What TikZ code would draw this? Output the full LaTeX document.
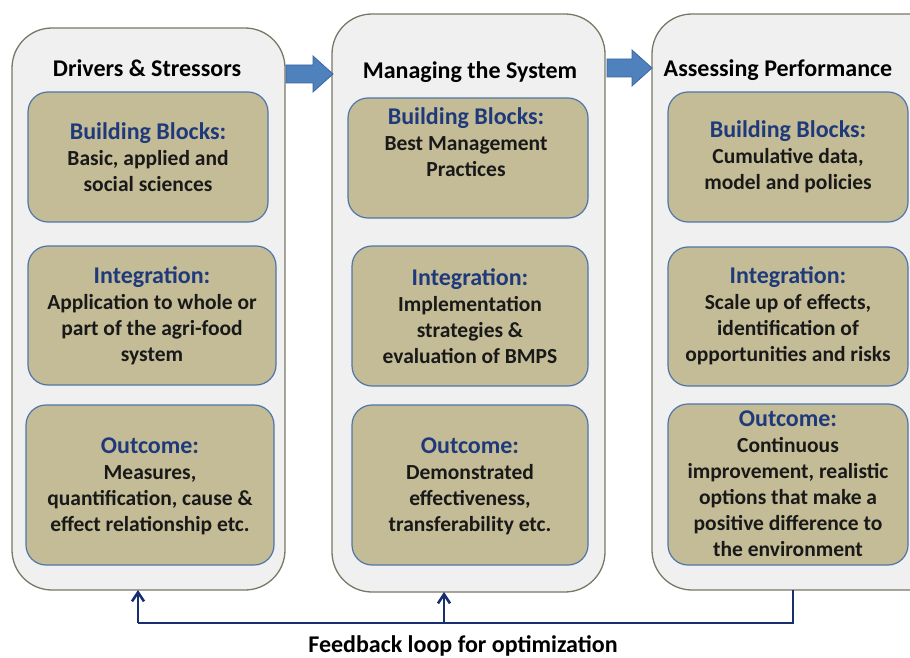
\documentclass[tikz,border=0pt]{standalone}
\usepackage{fontspec}
\setmainfont{Carlito}
\usetikzlibrary{arrows.meta}
\definecolor{panelfill}{HTML}{F0F0F0}
\definecolor{paneldraw}{HTML}{7A7766}
\definecolor{boxfill}{HTML}{C4BC96}
\definecolor{boxdraw}{HTML}{4F76A8}
\definecolor{headblue}{HTML}{1F3A7A}
\definecolor{arrfill}{HTML}{4F81BD}
\definecolor{arrdraw}{HTML}{3A66A0}
\definecolor{fbline}{HTML}{172F6E}
\tikzset{
  panel/.style={draw=paneldraw, line width=1.3pt, fill=panelfill, rounded corners=40pt},
  inbox/.style={draw=boxdraw, line width=1.2pt, fill=boxfill, rounded corners=20pt},
  title/.style={font=\fontsize{24}{26}\selectfont\bfseries, text=black},
  boxtxt/.style={font=\fontsize{21.5}{26}\selectfont\bfseries, align=center, text=black!90},
  blockarrow/.style={fill=arrfill, draw=arrdraw, line width=0.8pt},
  fb/.style={draw=fbline, line width=2.6pt},
  fbarrow/.style={fb, -{Straight Barb[length=9pt,width=12pt,line width=2.6pt]}}
}
\newcommand{\hd}[1]{{\color{headblue}\fontsize{24}{27}\selectfont #1}}
\begin{document}
\begin{tikzpicture}[x=1pt,y=-1pt]
\useasboundingbox (0,0) rectangle (910,658);
% panels
\draw[panel] (12,28) rectangle (285,590);
\draw[panel] (332,14) rectangle (605,592);
\draw[panel] (652,14) rectangle (950,590);
\coordinate (p1b) at (138,590);
\coordinate (p2b) at (444,592);
\coordinate (p3b) at (793,590);
% titles
\node[title] (t1) at (147,68) {Drivers \& Stressors};
\node[title] (t2) at (470,72) {Managing the System};
\node[title] (t3) at (778,70) {Assessing Performance};
% block arrows
\draw[blockarrow] (286,65) -- (313,65) -- (313,56) -- (333,74) -- (313,92) -- (313,83) -- (286,83) -- cycle;
\draw[blockarrow] (607,59) -- (632,59) -- (632,50) -- (652,68) -- (632,86) -- (632,77) -- (607,77) -- cycle;
% inner boxes column 1
\draw[inbox] (28,92) rectangle (268,222);
\node[boxtxt] (b1) at (148,157) {\hd{Building Blocks:}\\Basic, applied and\\social sciences};
\draw[inbox] (28,246) rectangle (276,385);
\node[boxtxt] (i1) at (152,316) {\hd{Integration:}\\Application to whole or\\part of the agri-food\\system};
\draw[inbox] (26,405) rectangle (274,565);
\node[boxtxt] (o1) at (150,486) {\hd{Outcome:}\\Measures,\\quantification, cause \&\\effect relationship etc.};
% column 2
\draw[inbox] (348,98) rectangle (588,218);
\node[boxtxt] (b2) at (466,142) {\hd{Building Blocks:}\\Best Management\\Practices};
\draw[inbox] (352,246) rectangle (588,386);
\node[boxtxt] (i2) at (470,316) {\hd{Integration:}\\Implementation\\strategies \&\\evaluation of BMPS};
\draw[inbox] (352,405) rectangle (588,565);
\node[boxtxt] (o2) at (470,486) {\hd{Outcome:}\\Demonstrated\\effectiveness,\\transferability etc.};
% column 3
\draw[inbox] (668,92) rectangle (908,222);
\node[boxtxt] (b3) at (788,157) {\hd{Building Blocks:}\\Cumulative data,\\model and policies};
\draw[inbox] (668,247) rectangle (908,386);
\node[boxtxt] (i3) at (788,316) {\hd{Integration:}\\Scale up of effects,\\identification of\\opportunities and risks};
\draw[inbox] (668,404) rectangle (908,565);
\node[boxtxt] (o3) at (788,484) {\hd{Outcome:}\\Continuous\\improvement, realistic\\options that make a\\positive difference to\\the environment};
% feedback loop
\coordinate (c3) at (793,623);
\coordinate (c1) at (138,623);
\coordinate (c2) at (444,623);
\draw[fb] (p3b) -- (c3) -- (c1);
\draw[fbarrow] (c1) -- (p1b);
\draw[fbarrow] (c2) -- (p2b);
\node[font=\fontsize{24}{26}\selectfont\bfseries] (fbt) at (463,646) {Feedback loop for optimization};
\end{tikzpicture}
\end{document}
